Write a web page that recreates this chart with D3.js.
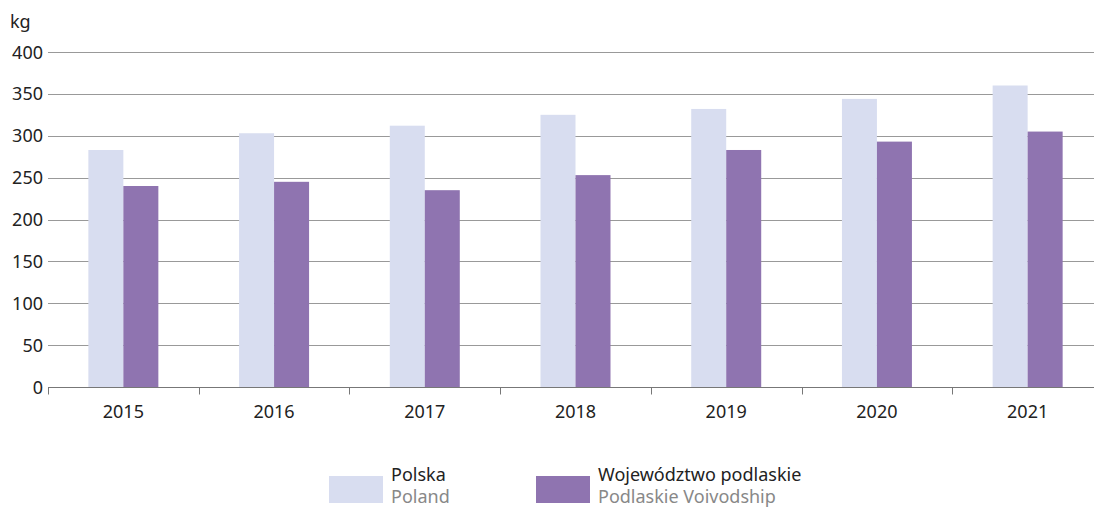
<!DOCTYPE html>
<html>
<head>
<meta charset="utf-8">
<script src="https://cdn.jsdelivr.net/npm/d3@7"></script>
<style>
  body { margin: 0; background: #fff; }
  svg { display: block; font-family: "Noto Sans", "Open Sans", sans-serif; }
</style>
</head>
<body>
<svg id="chart" width="1094" height="509"></svg>
<script>
// dane
const years = ["2015", "2016", "2017", "2018", "2019", "2020", "2021"];
const polska = [283, 303, 312, 325, 332, 344, 360];
const podlaskie = [240, 245, 235, 253, 283, 293, 305];
const yTicks = [0, 50, 100, 150, 200, 250, 300, 350, 400];
const seriesNames = [
  { pl: "Polska", en: "Poland", color: "#d8ddf0" },
  { pl: "Województwo podlaskie", en: "Podlaskie Voivodship", color: "#8f74b0" }
];

const svg = d3.select("#chart");
const plotLeft = 48, plotRight = 1103, plotTop = 52, plotBottom = 387;

const x = d3.scaleBand().domain(years).range([plotLeft, plotRight]).padding(0);
const y = d3.scaleLinear().domain([0, 400]).range([plotBottom, plotTop]);
const barW = 35;

// linie siatki
svg.append("g").selectAll("line").data(yTicks).join("line")
  .attr("x1", plotLeft).attr("x2", 1094)
  .attr("y1", d => Math.round(y(d)) + 0.5).attr("y2", d => Math.round(y(d)) + 0.5)
  .attr("stroke", d => d === 0 ? "#777" : "#999").attr("stroke-width", 1);

// słupki
const g = svg.append("g");
g.selectAll("rect.pl").data(years).join("rect")
  .attr("class", "pl")
  .attr("x", (d) => x(d) + x.bandwidth() / 2 - barW)
  .attr("width", barW)
  .attr("y", (d, i) => y(polska[i]))
  .attr("height", (d, i) => y(0) - y(polska[i]))
  .attr("fill", seriesNames[0].color);
g.selectAll("rect.wp").data(years).join("rect")
  .attr("class", "wp")
  .attr("x", (d) => x(d) + x.bandwidth() / 2)
  .attr("width", barW)
  .attr("y", (d, i) => y(podlaskie[i]))
  .attr("height", (d, i) => y(0) - y(podlaskie[i]))
  .attr("fill", seriesNames[1].color);

// oś X
const xAxis = svg.append("g").attr("transform", `translate(0,${Math.round(plotBottom) + 0.5})`);
xAxis.append("line").attr("x1", plotLeft).attr("x2", 1094).attr("stroke", "#777");
const bounds = years.map(d => x(d)).concat([x.range()[1]]);
xAxis.selectAll("line.tick").data(bounds).join("line")
  .attr("class", "tick")
  .attr("x1", d => Math.round(d) + 0.5).attr("x2", d => Math.round(d) + 0.5)
  .attr("y1", 0).attr("y2", 7).attr("stroke", "#777");
xAxis.selectAll("text").data(years).join("text")
  .attr("x", d => x(d) + x.bandwidth() / 2)
  .attr("y", 30.5)
  .attr("text-anchor", "middle")
  .attr("font-size", 18).attr("fill", "#222")
  .text(d => d);

// oś Y
svg.append("g").selectAll("text").data(yTicks).join("text")
  .attr("x", 43).attr("y", d => y(d) + 6.5)
  .attr("text-anchor", "end")
  .attr("font-size", 18).attr("fill", "#222")
  .text(d => d);

svg.append("text").attr("x", 10).attr("y", 28)
  .attr("font-size", 18).attr("fill", "#222").text("kg");

// legenda
const legX = [329, 536];
const leg = svg.append("g").selectAll("g").data(seriesNames).join("g")
  .attr("transform", (d, i) => `translate(${legX[i]},0)`);
leg.append("rect").attr("x", 0).attr("y", 476).attr("width", 54).attr("height", 27)
  .attr("fill", d => d.color);
leg.append("text").attr("x", 62).attr("y", 481).attr("font-size", 18).attr("fill", "#222")
  .text(d => d.pl);
leg.append("text").attr("x", 62).attr("y", 503).attr("font-size", 18).attr("fill", "#888")
  .text(d => d.en);
</script>
</body>
</html>
